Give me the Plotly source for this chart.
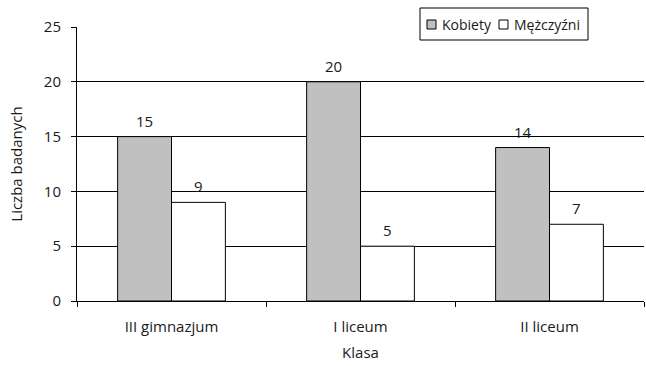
import plotly.graph_objects as go

categories = ["III gimnazjum", "I liceum", "II liceum"]
kobiety = [15, 20, 14]
mezczyzni = [9, 5, 7]
y_ticks = [0, 5, 10, 15, 20, 25]
series_names = ["Kobiety", "Mężczyźni"]
series_colors = ["#C0C0C0", "white"]

W, H = 646, 366
ML, MR, MT, MB = 77, 2, 27, 65
PW, PH = W - ML - MR, H - MT - MB
BARGAP = 0.43


def px_x(p):
    return (p - ML) / PW


def px_y(p):
    return 1 - (p - MT) / PH


font = dict(family="Open Sans, DejaVu Sans, sans-serif", size=15, color="#1a1a1a")
legend_font = dict(family="Open Sans, DejaVu Sans, sans-serif", size=14, color="#1a1a1a")

fig = go.Figure()
for name, vals, col in zip(series_names, [kobiety, mezczyzni], series_colors):
    fig.add_trace(go.Bar(
        x=categories, y=vals, name=name,
        marker=dict(color=col, line=dict(color="black", width=1)),
        showlegend=False,
    ))

annotations = []
# value labels above bars, anchored to data coordinates
bar_w = PW / len(categories) * (1 - BARGAP) / 2
for si, vals in enumerate([kobiety, mezczyzni]):
    shift = (si - 0.5) * bar_w
    for c, v in zip(categories, vals):
        annotations.append(dict(x=c, y=v, xref="x", yref="y", text=str(v),
                                showarrow=False, xanchor="center", yanchor="bottom",
                                xshift=shift, yshift=4, font=font))

# custom compact legend
shapes = [dict(type="rect", xref="paper", yref="paper",
               x0=px_x(420), x1=px_x(588), y0=px_y(40), y1=px_y(8),
               line=dict(color="black", width=1), fillcolor="white", layer="above")]
sq_x = [427, 499]
txt_x = [440, 512]
for name, col, sx, tx in zip(series_names, series_colors, sq_x, txt_x):
    shapes.append(dict(type="rect", xref="paper", yref="paper",
                       x0=px_x(sx), x1=px_x(sx + 9), y0=px_y(29), y1=px_y(20),
                       line=dict(color="black", width=1), fillcolor=col, layer="above"))
    annotations.append(dict(text=name, xref="paper", yref="paper",
                            x=px_x(tx), y=px_y(24.5), xanchor="left", yanchor="middle",
                            showarrow=False, font=legend_font))

fig.update_layout(
    width=W, height=H,
    margin=dict(l=ML, r=MR, t=MT, b=MB, autoexpand=False),
    paper_bgcolor="white", plot_bgcolor="white",
    font=font,
    barmode="group", bargap=BARGAP, bargroupgap=0,
    showlegend=False,
    shapes=shapes, annotations=annotations,
    xaxis=dict(
        type="category", tickson="boundaries", ticks="outside", ticklen=5,
        tickcolor="black", showline=True, linecolor="black", linewidth=1,
        showgrid=False, automargin=False, ticklabelstandoff=12,
        title=dict(text="Klasa", font=font, standoff=12),
    ),
    yaxis=dict(
        range=[0, 25], tickvals=y_ticks, ticks="outside", ticklen=5,
        tickcolor="black", showline=True, linecolor="black", linewidth=1,
        showgrid=True, gridcolor="black", gridwidth=1, zeroline=False,
        automargin=False, ticklabelstandoff=7,
        title=dict(text="Liczba badanych", font=font, standoff=17),
    ),
)

fig.write_html("out.html", config={"displayModeBar": False},
               post_script="document.body.style.margin='0';")
